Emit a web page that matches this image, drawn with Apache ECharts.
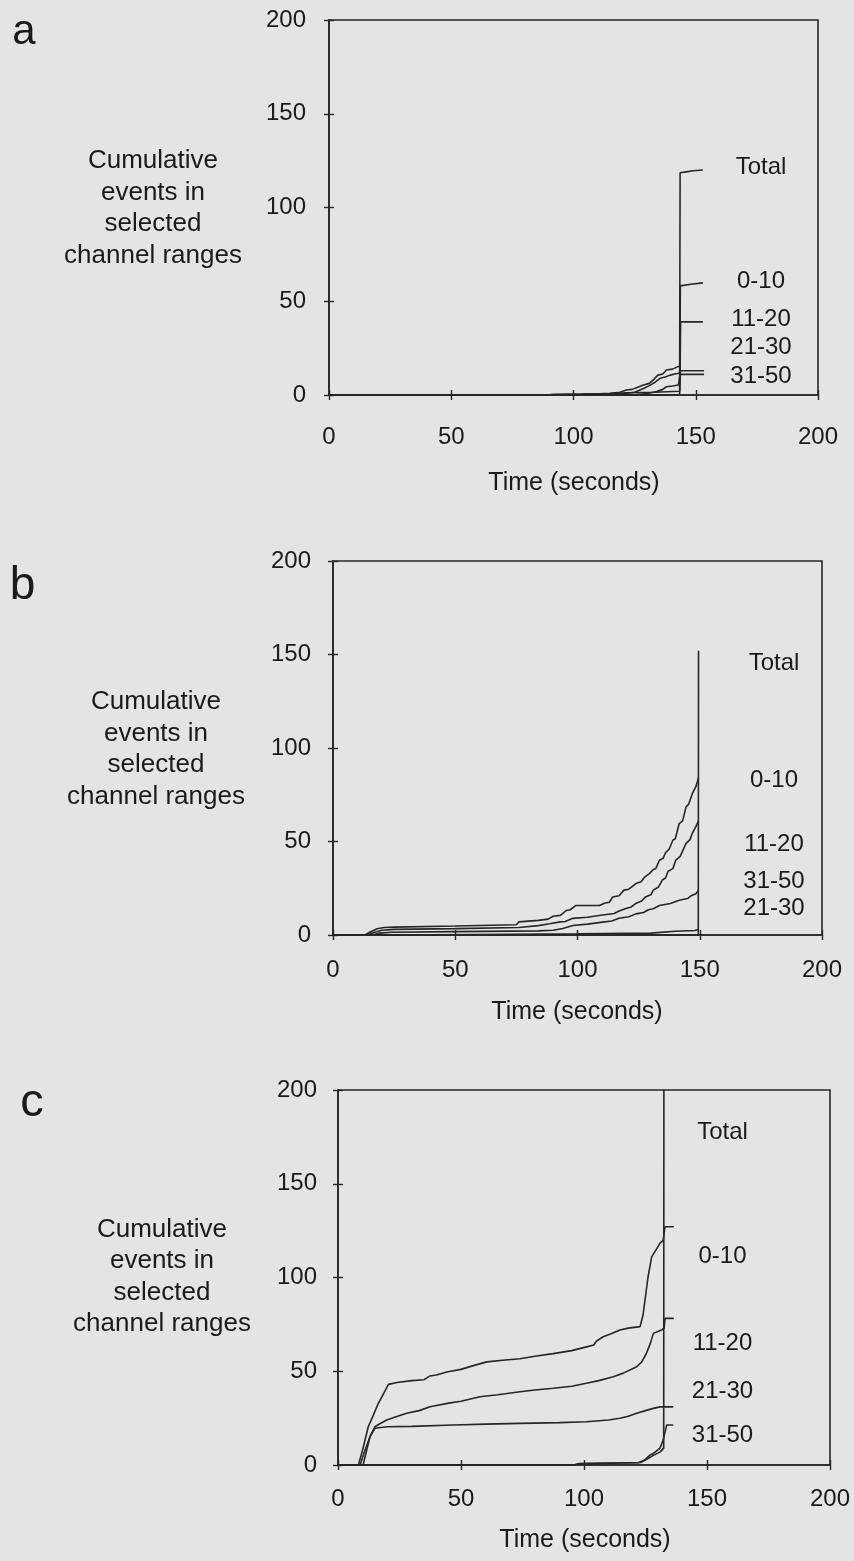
<!DOCTYPE html>
<html>
<head>
<meta charset="utf-8">
<script src="https://cdn.jsdelivr.net/npm/echarts@6/dist/echarts.min.js"></script>
<style>
  html, body { margin: 0; padding: 0; background: #e4e4e4; }
  #chart { width: 854px; height: 1561px; }
</style>
</head>
<body>
<div id="chart"></div>
<script>
// Axis ranges shared by the three panels
const timeTicks = [0, 50, 100, 150, 200];
const countTicks = [0, 50, 100, 150, 200];
const rangeNames = ['Total', '0-10', '11-20', '21-30', '31-50'];
const panelLetters = ['a', 'b', 'c'];
const yTitle = 'Cumulative\nevents in\nselected\nchannel ranges';
const xTitle = 'Time (seconds)';

// Panel a: cumulative events [time s, count]
const aTotal = [[0,0],[143.4,0],[143.6,118.5],[146,119],[149,119.6],[152.9,120]];
const a0_10 = [[0,0],[100,0],[108,0.5],[115,0.9],[119,1.5],[121.7,2.7],[124,3],[126,4],[128.6,5.3],[131,6.2],[133,8.5],[134.5,10.6],[136.5,11.2],[138,13.3],[140.5,13.8],[142.5,15],[143.5,15.5],[143.7,58.2],[148,59.1],[152.9,59.8]];
const a11_20 = [[0,0],[112,0],[120,0.6],[125,1.5],[128.6,3.5],[131,5],[133,6.5],[135.4,8.9],[137.5,9.6],[139.5,10.6],[142.5,11.5],[143.6,11.8],[143.8,39],[152.9,39]];
const a21_30 = [[0,0],[124,0],[130,0.8],[134,1.8],[136.5,3],[138,4.4],[140.5,4.8],[142.9,5.3],[143.6,5.5],[143.8,12.9],[153.4,12.9]];
const a31_50 = [[0,0],[89,0],[92,0.4],[104,0.6],[115,0.8],[122,1.2],[133,1.5],[143.5,2],[143.7,11],[153.4,11]];

// Panel b
const bTotal = [[0,0],[149.4,0],[149.5,152]];
const b0_10 = [[0,0],[13,0],[15,1.5],[18,3.3],[21,4],[25,4.2],[50,4.8],[75,5.5],[76,7],[84,7.8],[88,8.5],[90,10],[93,10.5],[95.4,13.1],[97,13.5],[99.4,15.8],[109,15.8],[111,17],[113,17.5],[114.4,20.3],[117,21],[119,24],[121,24.5],[123.9,27.5],[126,28.5],[127.5,31],[129.4,32.8],[131,35],[132,35.5],[133.5,40],[135,41],[136,44],[137.5,46],[139,50.7],[140,51.5],[141.6,59.6],[143,61],[144.4,68.5],[145.5,70],[147,75.7],[148.4,79.3],[149.5,84]];
const b11_20 = [[0,0],[14,0],[17,1.5],[20,2.5],[25,3],[50,3.4],[76,4],[84,5],[88.6,6],[93,7],[95,7.2],[98.1,8.9],[104,9.5],[110.3,10.7],[115,11.5],[117,12.8],[119.8,14.2],[122,15],[124,17],[126,18],[128,20.5],[130,21.5],[131,24],[133,25.5],[134.7,29.4],[136,30.5],[137,34],[139,35.5],[140.2,40],[142,42],[143,45],[144.4,49],[146,51],[147,54.5],[148.4,58],[149.5,61]];
const b21_30 = [[0,0],[20,0],[60,0.3],[100,0.6],[130,1],[140,2],[148,2.4],[149.5,3]];
const b31_50 = [[0,0],[16,0],[19,1],[24,1.5],[50,1.8],[84,2.2],[90,2.5],[94,3.5],[98.1,5.1],[104,5.8],[110.3,6.9],[114,7.5],[117,9],[121,9.8],[123.9,11.3],[127,12],[129,13.5],[131,14],[133.5,15.8],[138,16.8],[141.6,18.6],[145,19.5],[146.5,21],[148.4,22.1],[149.5,24]];

// Panel c
const cTotal = [[0,0],[96,0],[98,0.8],[123,1.3],[125.5,3],[128,5],[131,7],[132.4,9],[132.5,257]];
const c0_10 = [[0,0],[8.3,0],[10,8],[12.3,20.4],[14.5,27],[16.4,32.9],[18.5,38],[20.5,43],[24,44],[30,45],[35,45.5],[37.4,47.5],[40,48],[44.2,49.6],[50,51],[55,53],[60.5,55],[68,56],[74,56.7],[80,58],[87.5,59.4],[95,61],[101,63],[104,64],[105,66],[107.8,68.4],[111,70],[114.6,72],[118,73],[122.8,73.8],[124,80],[124.8,88],[126,100],[127.5,111],[130.9,118.2],[132.2,120],[132.9,127.1],[136.5,127.1]];
const c11_20 = [[0,0],[10.2,0],[11.5,7],[13,15.1],[15,20.4],[17,22],[19.8,24],[23,25.5],[27.9,27.6],[33,29],[37.4,31.1],[45,33],[50,34],[57.7,36.4],[65,37.5],[74,39.1],[80,40],[87.5,40.9],[95,42],[101,43.6],[106,45],[111.9,47.1],[116,49],[121.4,52.4],[123.5,55],[125.4,59.6],[127,65],[128.2,70.2],[131.5,72],[132.6,73],[132.9,78.2],[136.5,78.2]];
const c21_30 = [[0,0],[9,0],[11,8],[13,15],[15,19.6],[19.8,20.4],[30,20.6],[46.9,21.3],[60,21.8],[74,22.2],[90,22.6],[101,23.1],[110,24],[114.6,24.9],[118,26],[121.4,27.6],[125,29],[128.2,30.2],[130.9,31],[133.6,31],[136.3,31]];
const c31_50 = [[0,0],[96,0],[98,0.6],[110,0.9],[122,1.2],[124.5,2.5],[126.8,5.3],[128,6],[129.5,7.5],[130.9,9],[132.2,13.3],[133,18],[133.6,21.3],[136.3,21.3]];

const panelSeries = [
  [aTotal, a0_10, a11_20, a21_30, a31_50],
  [bTotal, b0_10, b11_20, b21_30, b31_50],
  [cTotal, c0_10, c11_20, c21_30, c31_50]
];

// Page layout of each panel
const layout = [
  { grid: { left: 329, top: 20, width: 489, height: 375 }, xMargin: 30, yMargin: 23,
    letter: [24, 32, 42], yTitleAt: [153, 208.5], xTitleAt: [574, 483],
    labelX: 761, labelY: [167.5, 281, 319, 347, 376] },
  { grid: { left: 333, top: 561, width: 489, height: 374 }, xMargin: 23, yMargin: 22,
    letter: [22.5, 586, 46], yTitleAt: [156, 749.5], xTitleAt: [577, 1012],
    labelX: 774, labelY: [663.3, 780, 844, 908.3, 881.7] },
  { grid: { left: 338, top: 1090, width: 492, height: 375 }, xMargin: 22, yMargin: 21,
    letter: [32, 1103, 47], yTitleAt: [162, 1277], xTitleAt: [585, 1540],
    labelX: 722.5, labelY: [1132.7, 1256.7, 1343.3, 1391.7, 1435] }
];

const FONT = '"Liberation Sans", Arial, Helvetica, sans-serif';
const INK = '#1a1a1a';
const LINE = '#262626';

const grids = [], xAxes = [], yAxes = [], series = [], graphics = [];

// Each axis is drawn twice: once with outward ticks and labels, once with inward ticks,
// so the tick marks cross the axis line.
function axisPair(gridIndex, ticks, pos, margin) {
  const base = {
    gridIndex, type: 'value',
    min: ticks[0], max: ticks[ticks.length - 1], interval: ticks[1] - ticks[0],
    position: pos, splitLine: { show: false }
  };
  const outer = Object.assign({}, base, {
    axisLine: { show: true, lineStyle: { color: LINE, width: 1.6 } },
    axisTick: { show: true, inside: false, length: 5, lineStyle: { color: LINE, width: 1.4 } },
    axisLabel: { show: true, margin, fontSize: 24, fontFamily: FONT, color: INK }
  });
  const inner = Object.assign({}, base, {
    axisLine: { show: false },
    axisTick: { show: true, inside: true, length: 5, lineStyle: { color: LINE, width: 1.4 } },
    axisLabel: { show: false }
  });
  return [outer, inner];
}

layout.forEach((p, i) => {
  grids.push(Object.assign({
    show: true, borderColor: LINE, borderWidth: 1.6, backgroundColor: 'transparent',
    containLabel: false, outerBoundsMode: 'none'
  }, p.grid));
  xAxes.push(...axisPair(i, timeTicks, 'bottom', p.xMargin));
  yAxes.push(...axisPair(i, countTicks, 'left', p.yMargin));

  panelSeries[i].forEach((data, k) => {
    series.push({
      name: panelLetters[i] + ' ' + rangeNames[k],
      type: 'line', xAxisIndex: 2 * i, yAxisIndex: 2 * i,
      data, symbol: 'none', showSymbol: false, clip: true, silent: true,
      lineStyle: { color: LINE, width: 1.6 }
    });
  });

  // panel letter
  graphics.push({ type: 'text', x: p.letter[0], y: p.letter[1], silent: true,
    style: { text: panelLetters[i], fontSize: p.letter[2], fontFamily: FONT, fill: INK,
             textAlign: 'center', textVerticalAlign: 'middle' } });
  // y axis title
  graphics.push({ type: 'text', x: p.yTitleAt[0], y: p.yTitleAt[1], silent: true,
    style: { text: yTitle, fontSize: 26, lineHeight: 31.5, fontFamily: FONT, fill: INK,
             textAlign: 'center', textVerticalAlign: 'middle' } });
  // x axis title
  graphics.push({ type: 'text', x: p.xTitleAt[0], y: p.xTitleAt[1], silent: true,
    style: { text: xTitle, fontSize: 25, fontFamily: FONT, fill: INK,
             textAlign: 'center', textVerticalAlign: 'middle' } });
  // channel range labels
  rangeNames.forEach((nm, k) => {
    graphics.push({ type: 'text', x: p.labelX, y: p.labelY[k], silent: true,
      style: { text: nm, fontSize: 24, fontFamily: FONT, fill: INK,
               textAlign: 'center', textVerticalAlign: 'middle' } });
  });
});

const chart = echarts.init(document.getElementById('chart'), null, { renderer: 'canvas' });
chart.setOption({
  backgroundColor: '#e4e4e4',
  animation: false,
  textStyle: { fontFamily: FONT },
  grid: grids,
  xAxis: xAxes,
  yAxis: yAxes,
  series,
  graphic: graphics
});
</script>
</body>
</html>
